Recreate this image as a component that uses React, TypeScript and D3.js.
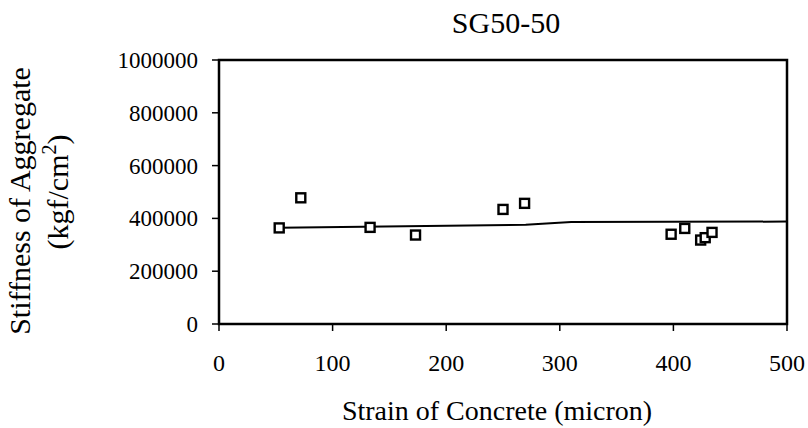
import React from "react";
import * as d3 from "d3";

const strain = [53, 72, 133, 173, 250, 269, 398, 410, 424, 428, 434];
const stiffness = [364000, 478000, 366000, 337000, 434000, 457000, 340000, 362000, 318000, 327000, 347000];
const trendX = [53, 270, 310, 500];
const trendY = [365000, 376000, 386000, 388000];
const xTicks = [0, 100, 200, 300, 400, 500];
const yTicks = [0, 200000, 400000, 600000, 800000, 1000000];

const serif = { fontFamily: "Liberation Serif" };

export default function App() {
  const W = 808, H = 428;
  const x = d3.scaleLinear().domain([0, 500]).range([219, 787]);
  const y = d3.scaleLinear().domain([0, 1000000]).range([324, 60]);
  const line = d3.line<number>().x((d, i) => x(trendX[i])).y((d, i) => y(trendY[i]));
  return (
    <svg width={W} height={H} style={{ position: "absolute", left: 0, top: 0, background: "#fff" }}>
      <rect x={0} y={0} width={W} height={H} fill="#fff" />
      <text x={506} y={33} textAnchor="middle" fontSize={30} style={serif}>SG50-50</text>
      <rect x={x(0)} y={y(1000000)} width={x(500) - x(0)} height={y(0) - y(1000000)} fill="none" stroke="#000" strokeWidth={2.5} />
      {yTicks.map((t) => (
        <g key={"y" + t}>
          <line x1={x(0) - 7} x2={x(0)} y1={y(t)} y2={y(t)} stroke="#000" strokeWidth={1.5} />
          <text x={198} y={y(t) + 8} textAnchor="end" fontSize={23} style={serif}>{t}</text>
        </g>
      ))}
      {xTicks.map((t) => (
        <g key={"x" + t}>
          <line x1={x(t)} x2={x(t)} y1={y(0)} y2={y(0) + 7} stroke="#000" strokeWidth={1.5} />
          <text x={x(t)} y={371} textAnchor="middle" fontSize={24} style={serif}>{t}</text>
        </g>
      ))}
      <path d={line(trendX) || ""} fill="none" stroke="#000" strokeWidth={2} />
      {strain.map((s, i) => (
        <rect key={i} x={x(s) - 4.5} y={y(stiffness[i]) - 4.5} width={9} height={9} fill="#fff" stroke="#000" strokeWidth={2.4} />
      ))}
      <text x={497} y={420} textAnchor="middle" fontSize={28} style={serif}>Strain of Concrete (micron)</text>
      <text transform="translate(30,201) rotate(-90)" textAnchor="middle" fontSize={30} style={serif}>Stiffness of Aggregate</text>
      <text transform="translate(68,192) rotate(-90)" textAnchor="middle" fontSize={30} style={serif}>
        (kgf/cm<tspan dy={-12} fontSize={20}>2</tspan><tspan dy={12}>)</tspan>
      </text>
    </svg>
  );
}
